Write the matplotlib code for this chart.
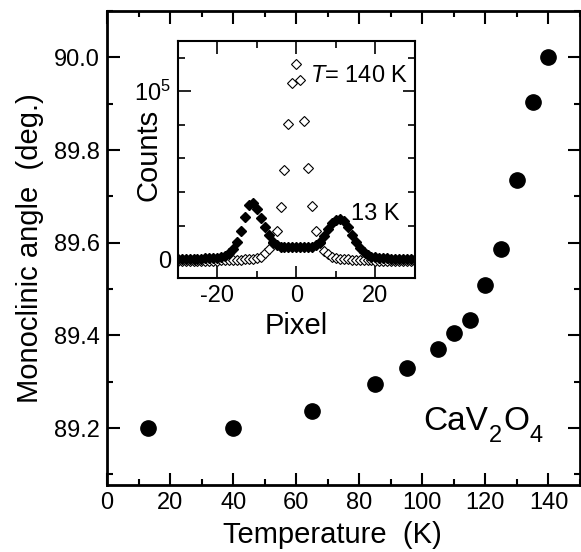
import numpy as np
import matplotlib
matplotlib.use('Agg')
import matplotlib.pyplot as plt
from matplotlib.transforms import offset_copy

plt.rcParams['font.family'] = ['Liberation Sans', 'DejaVu Sans']
plt.rcParams['mathtext.fontset'] = 'custom'
plt.rcParams['mathtext.rm'] = 'Liberation Sans'
plt.rcParams['mathtext.it'] = 'Liberation Sans:italic'
plt.rcParams['axes.unicode_minus'] = False

# main panel: monoclinic angle vs temperature
temperature = [13, 40, 65, 85, 95, 105, 110, 115, 120, 125, 130, 135, 140]
angle = [89.20, 89.20, 89.237, 89.295, 89.33, 89.371, 89.405, 89.434,
         89.509, 89.587, 89.736, 89.903, 90.0]

# inset: line profiles along detector pixel
pixel = list(range(-30, 31))
counts_13K = [200, 200, 250, 300, 300, 350, 400, 500, 600, 800,
              1000, 1500, 2200, 3500, 6000, 10500, 17000, 25000, 32000, 33500,
              30000, 24500, 19000, 14500, 10500, 8500, 7500, 7200, 7000, 7000,
              7000,
              7000, 7000, 7200, 7500, 8500, 10500, 14000, 18000, 21500, 23500,
              24200, 22500, 19000, 14500, 10000, 6500, 4000, 2500, 1600, 1100,
              800, 600, 500, 400, 350, 300, 300, 250, 200, 200]
counts_140K = [-800, -800, -800, -800, -800, -800, -800, -800, -800, -800,
               -800, -750, -700, -650, -550, -450, -300, -100, 100, 300,
               700, 1500, 3500, 6000, 9500, 16800, 30900, 53000, 80200, 105000,
               116000,
               106500, 82400, 54400, 31700, 17000, 9500, 5000, 3000, 1500, 700,
               300, 100, -100, -300, -450, -550, -650, -700, -750, -800,
               -800, -800, -800, -800, -800, -800, -800, -800, -800, -800]

fig = plt.figure(figsize=(5.81, 5.52), dpi=100)
ax = fig.add_axes([107/581, 1-485/552, (580-107)/581, (485-11)/552])

ax.plot(temperature, angle, 'o', color='black', ms=11, zorder=3)
ax.set_xlim(0, 150)
ax.set_ylim(89.077, 90.10)
ax.set_xticks(np.arange(0, 141, 20))
ax.set_xticks(np.arange(0, 151, 10), minor=True)
ax.set_yticks([89.2, 89.4, 89.6, 89.8, 90.0])
ax.set_yticks(np.arange(89.1, 90.11, 0.1), minor=True)
ax.set_yticklabels(['89.2', '89.4', '89.6', '89.8', '90.0'])
ax.tick_params(which='both', direction='in', top=True, right=True,
               width=1.5, labelsize=17)
ax.tick_params(which='major', length=9, pad=5)
ax.tick_params(which='minor', length=4.5)
for s in ax.spines.values():
    s.set_linewidth(2)

ax.set_xlabel('Temperature  (K)', fontsize=21)
ax.set_ylabel('Monoclinic angle  (deg.)', fontsize=21)
ax.xaxis.set_label_coords(0.477, -0.075)
ax.yaxis.set_label_coords(-0.133, 0.5)

# CaV2O4 with large, well-dropped subscripts, piece by piece
renderer = fig.canvas.get_renderer()
pieces = [('CaV', 24, 0), ('2', 17, -12), ('O', 24, 0), ('4', 17, -12)]
x_px = 423
for txt, size, dy in pieces:
    tr = offset_copy(ax.transAxes, fig=fig, x=0, y=dy, units='dots')
    t = ax.text((x_px - 107) / 473, (485 - 430) / 474, txt, transform=tr,
                fontsize=size, va='baseline', ha='left')
    x_px += t.get_window_extent(renderer).width + 1

# inset
axin = fig.add_axes([177.7/581, 1-277.7/552, (415-177.7)/581, (277.7-40.7)/552])
axin.plot(pixel, counts_140K, 'D', ms=5, mfc='white', mec='black',
          mew=0.8, zorder=2)
axin.plot(pixel, counts_13K, 'D', ms=5, color='black', zorder=3)
axin.set_xlim(-30, 30)
axin.set_ylim(-11000, 130000)
axin.set_xticks([-20, 0, 20])
axin.set_xticks(np.arange(-30, 31, 10), minor=True)
axin.set_yticks([0, 100000])
axin.set_yticklabels(['0', r'$10^5$'])
axin.set_yticks(np.arange(0, 130001, 20000), minor=True)
axin.tick_params(which='both', direction='in', top=True, right=True,
                 width=1.2, labelsize=17)
axin.tick_params(which='major', length=9, pad=5)
axin.tick_params(which='minor', length=5)
for s in axin.spines.values():
    s.set_linewidth(1.5)
axin.set_xlabel('Pixel', fontsize=21)
axin.set_ylabel('Counts', fontsize=21)
axin.yaxis.set_label_coords(-0.066, 0.52)

axin.text(0.5575, 0.827, r'$T$= 140 K', transform=axin.transAxes,
          fontsize=17, va='baseline', ha='left')
axin.text(0.729, 0.2435, '13 K', transform=axin.transAxes,
          fontsize=17, va='baseline', ha='left')

fig.savefig('out.png', dpi=100)
